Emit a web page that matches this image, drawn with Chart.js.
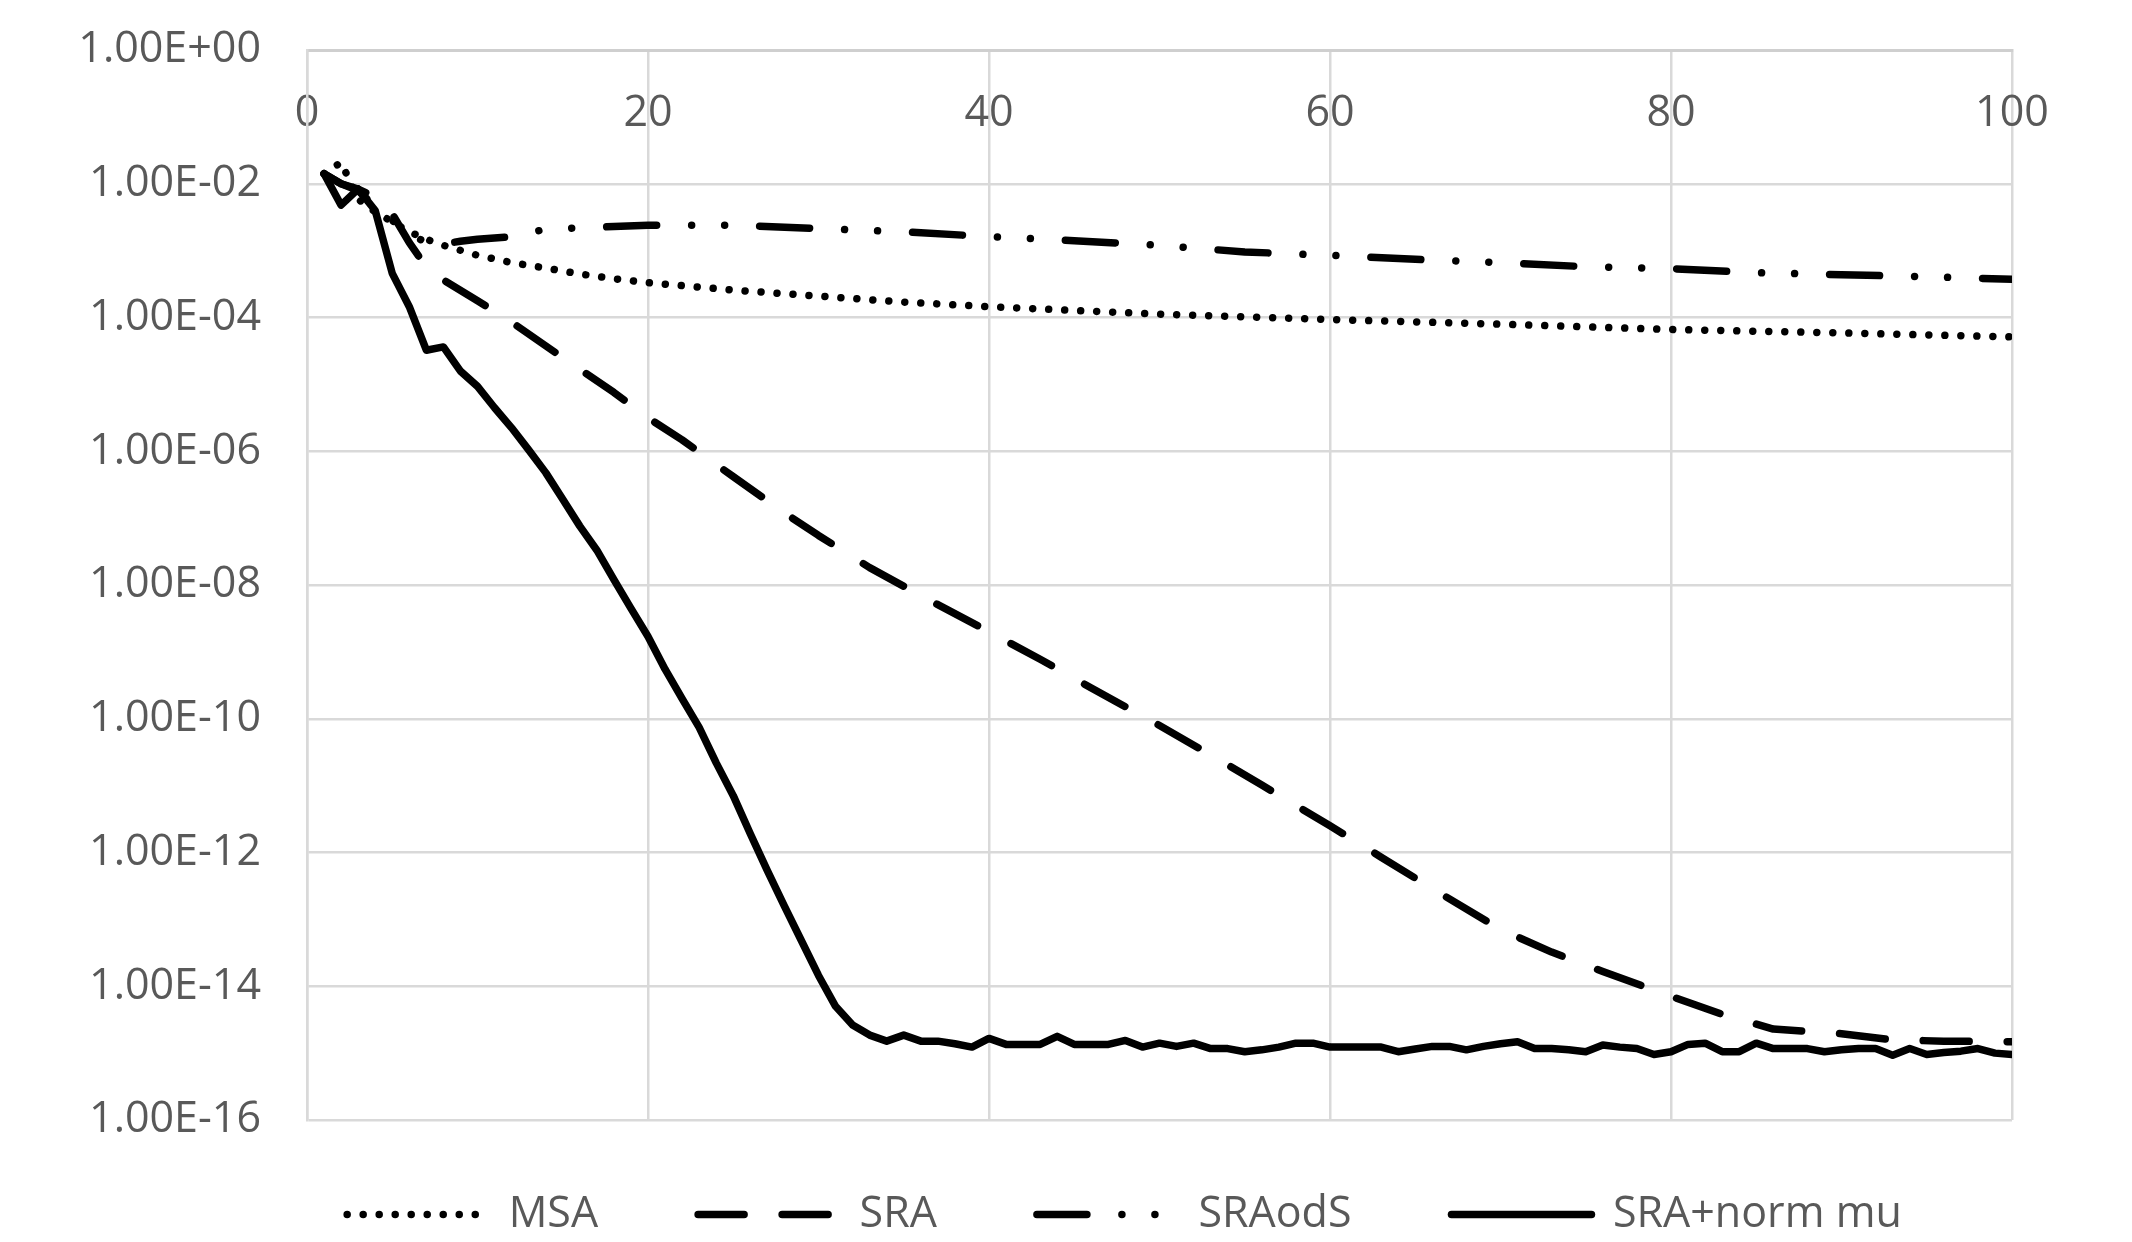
<!DOCTYPE html>
<html>
<head>
<meta charset="utf-8">
<title>Convergence</title>
<script src="https://cdn.jsdelivr.net/npm/chart.js@4.4.0/dist/chart.umd.min.js"></script>
<style>
  html, body { margin: 0; padding: 0; background: #fff; }
  canvas { display: block; }
</style>
</head>
<body>
<canvas id="chart" width="2132" height="1242"></canvas>
<script>
// Axis ticks
const xTickValues = [0, 20, 40, 60, 80, 100];
const yTickValues = [1, 1e-2, 1e-4, 1e-6, 1e-8, 1e-10, 1e-12, 1e-14, 1e-16];
const yTickLabels = ['1.00E+00', '1.00E-02', '1.00E-04', '1.00E-06', '1.00E-08',
                     '1.00E-10', '1.00E-12', '1.00E-14', '1.00E-16'];

// MSA (dotted)
const msaIter = [1, 2, 3, 4, 5, 6, 7, 8, 10, 12, 14, 16, 18, 20, 25, 30, 35, 40, 50, 60, 70, 80, 90, 100];
const msaVals = [1.41e-2, 2.09e-2, 5.89e-3, 3.80e-3, 2.69e-3, 1.91e-3, 1.48e-3, 1.20e-3, 8.51e-4, 6.61e-4,
                 5.50e-4, 4.47e-4, 3.80e-4, 3.31e-4, 2.57e-4, 2.09e-4, 1.70e-4, 1.45e-4, 1.12e-4, 9.33e-5,
                 7.94e-5, 6.61e-5, 5.89e-5, 5.13e-5];

// SRA (dashed)
const sraIter = [1, 2, 3, 4, 5, 6, 7, 8, 10, 12, 15, 18, 20, 22, 25, 28, 30, 33, 36, 40, 43, 46, 50,
                 53, 56, 60, 63, 66, 70, 73, 76, 80, 83, 86, 90, 93, 96, 100];
const sraVals = [1.41e-2, 1.00e-2, 8.32e-3, 6.31e-3, 3.55e-3, 1.32e-3, 5.62e-4, 3.63e-4, 1.78e-4, 8.51e-5,
                 2.51e-5, 7.59e-6, 3.16e-6, 1.48e-6, 4.17e-7, 1.20e-7, 5.50e-8, 1.82e-8, 6.92e-9, 2.00e-9,
                 7.76e-10, 2.88e-10, 7.94e-11, 2.88e-11, 1.02e-11, 2.51e-12, 8.51e-13, 2.88e-13, 7.08e-14,
                 3.24e-14, 1.66e-14, 7.08e-15, 3.80e-15, 2.29e-15, 1.95e-15, 1.58e-15, 1.51e-15, 1.48e-15];

// SRAodS (dash-dot-dot)
const sraOdsIter = [1, 2, 3, 4, 5, 6, 7, 8, 9, 10, 12, 14, 16, 18, 20, 25, 30, 35, 40, 45, 50,
                    55, 60, 65, 70, 75, 80, 85, 90, 95, 100];
const sraOdsVals = [1.41e-2, 1.00e-2, 7.94e-3, 4.47e-3, 2.82e-3, 1.78e-3, 1.32e-3, 1.26e-3, 1.38e-3, 1.48e-3,
                    1.62e-3, 2.09e-3, 2.19e-3, 2.29e-3, 2.40e-3, 2.40e-3, 2.14e-3, 1.91e-3, 1.62e-3, 1.41e-3,
                    1.20e-3, 9.55e-4, 8.51e-4, 7.41e-4, 6.61e-4, 5.75e-4, 5.37e-4, 4.68e-4, 4.37e-4,
                    4.07e-4, 3.72e-4];

// SRA+norm mu (solid), one value per iteration 1..100
const normMuIter = Array.from({ length: 100 }, (_, i) => i + 1);
const normMuVals = [
  1.41e-2, 4.79e-3, 8.32e-3, 3.98e-3, 4.57e-4, 1.45e-4, 3.24e-5, 3.63e-5, 1.58e-5, 9.33e-6,
  4.47e-6, 2.24e-6, 1.05e-6, 4.79e-7, 1.91e-7, 7.59e-8, 3.31e-8, 1.20e-8, 4.47e-9, 1.70e-9,
  5.50e-10, 2.00e-10, 7.41e-11, 2.19e-11, 7.08e-12, 1.91e-12, 5.37e-13, 1.58e-13, 4.79e-14, 1.45e-14,
  5.01e-15, 2.63e-15, 1.86e-15, 1.51e-15, 1.86e-15, 1.51e-15, 1.51e-15, 1.38e-15, 1.23e-15, 1.66e-15,
  1.35e-15, 1.35e-15, 1.35e-15, 1.78e-15, 1.35e-15, 1.35e-15, 1.35e-15, 1.55e-15, 1.23e-15, 1.41e-15,
  1.26e-15, 1.41e-15, 1.17e-15, 1.17e-15, 1.05e-15, 1.12e-15, 1.23e-15, 1.41e-15, 1.41e-15, 1.23e-15,
  1.23e-15, 1.23e-15, 1.23e-15, 1.05e-15, 1.15e-15, 1.26e-15, 1.26e-15, 1.12e-15, 1.26e-15, 1.38e-15,
  1.48e-15, 1.17e-15, 1.17e-15, 1.12e-15, 1.05e-15, 1.32e-15, 1.23e-15, 1.17e-15, 9.55e-16, 1.05e-15,
  1.35e-15, 1.41e-15, 1.05e-15, 1.05e-15, 1.41e-15, 1.17e-15, 1.17e-15, 1.17e-15, 1.05e-15, 1.12e-15,
  1.17e-15, 1.17e-15, 9.33e-16, 1.17e-15, 9.55e-16, 1.02e-15, 1.07e-15, 1.17e-15, 1.00e-15, 9.55e-16
];

const FONT = "'Open Sans', sans-serif";
const GREY = '#595959';
const GRID = '#d9d9d9';

const toPoints = (xs, ys) => xs.map((x, i) => ({ x, y: ys[i] }));

const lineStyle = (label, data, dash) => ({
  label,
  data,
  borderColor: '#000',
  backgroundColor: 'transparent',
  borderWidth: 7.5,
  borderDash: dash,
  borderCapStyle: 'round',
  borderJoinStyle: 'round',
  pointRadius: 0,
  tension: 0,
  fill: false
});

new Chart(document.getElementById('chart'), {
  type: 'line',
  data: {
    datasets: [
      lineStyle('MSA', toPoints(msaIter, msaVals), [0.01, 16]),
      lineStyle('SRA', toPoints(sraIter, sraVals), [46, 38]),
      lineStyle('SRAodS', toPoints(sraOdsIter, sraOdsVals), [50, 35, 0.01, 33, 0.01, 35]),
      lineStyle('SRA+norm mu', toPoints(normMuIter, normMuVals), [])
    ]
  },
  options: {
    responsive: false,
    animation: false,
    devicePixelRatio: 1,
    // side paddings only move the centred legend; axis boxes below fix the plot edges
    layout: { padding: { top: 0, right: -42, bottom: -4, left: 75 } },
    scales: {
      x: {
        type: 'linear',
        position: 'top',
        min: 0,
        max: 100,
        afterBuildTicks: (scale) => { scale.ticks = xTickValues.map(v => ({ value: v })); },
        afterFit: (scale) => { scale.height = 50; },
        grid: { color: GRID, lineWidth: 2.5, drawTicks: false },
        border: { display: true, color: '#cfcfcf', width: 3 },
        ticks: {
          mirror: true,
          padding: 38,
          color: GREY,
          font: { family: FONT, size: 43 },
          maxRotation: 0,
          autoSkip: false
        }
      },
      y: {
        type: 'logarithmic',
        min: 1e-16,
        max: 1,
        afterBuildTicks: (scale) => { scale.ticks = yTickValues.map(v => ({ value: v })); },
        afterFit: (scale) => { scale.width = 232; },
        // invisible tick marks hold the labels off the axis without padding the top
        grid: { color: GRID, lineWidth: 2.5, drawTicks: true, tickLength: 46, tickColor: 'rgba(0,0,0,0)' },
        border: { display: true, color: GRID, width: 2.5 },
        ticks: {
          padding: 0,
          color: GREY,
          font: { family: FONT, size: 43 },
          autoSkip: false,
          callback: (v, i) => yTickLabels[i]
        }
      },
      // empty right-hand margin
      gutter: {
        type: 'linear',
        position: 'right',
        afterFit: (scale) => { scale.width = 162; },
        grid: { display: false, drawTicks: false },
        border: { display: false },
        ticks: { display: false }
      }
    },
    plugins: {
      tooltip: { enabled: false },
      legend: {
        position: 'bottom',
        // empty title with negative padding pulls the row up under the plot
        title: { display: true, text: '', font: { size: 10, lineHeight: 1 }, padding: { top: 0, bottom: -37 } },
        labels: {
          usePointStyle: true,
          pointStyle: 'line',
          pointStyleWidth: 140,
          padding: 100,
          color: GREY,
          font: { family: FONT, size: 43 },
          generateLabels: (chart) => chart.data.datasets.map((ds, i) => ({
            text: ds.label,
            strokeStyle: ds.borderColor,
            fillStyle: 'transparent',
            lineWidth: ds.borderWidth,
            lineDash: ds.borderDash,
            lineCap: ds.borderCapStyle,
            pointStyle: 'line',
            fontColor: GREY,
            hidden: false,
            datasetIndex: i
          }))
        }
      }
    }
  }
});
</script>
</body>
</html>
